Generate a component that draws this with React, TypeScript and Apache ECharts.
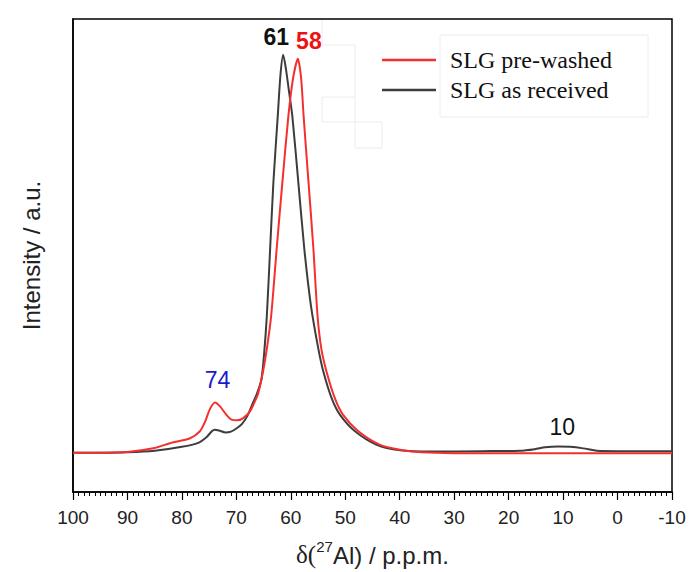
import React, { useEffect, useRef } from "react";
import * as echarts from "echarts";

// ---- Data (chemical shift in ppm, normalised intensity) ----
const receivedPpm = [100, 95, 90, 85, 80, 77, 75.5, 74.5, 74, 73.2, 72, 71, 70, 69, 68, 67, 66.2, 65.4, 64.9, 64.4, 63.8, 63.2, 62.4, 61.9, 61.4, 60.9, 60.3, 59.72, 58.62, 57.52, 56.3, 54.95, 54.03, 52.49, 50.96, 48.21, 44.22, 39.94, 34.4, 25, 18, 15.2, 13.3, 10.9, 8.7, 6.3, 3.8, 0, -10];
const receivedIntensity = [0.001, 0.001, 0.002, 0.006, 0.016, 0.026, 0.04, 0.055, 0.059, 0.057, 0.052, 0.054, 0.062, 0.073, 0.093, 0.125, 0.15, 0.185, 0.25, 0.346, 0.5125, 0.68, 0.846, 0.95, 1.0, 0.965, 0.905, 0.846, 0.68, 0.5125, 0.37, 0.2625, 0.205, 0.1375, 0.096, 0.055, 0.021, 0.0075, 0.004, 0.005, 0.006, 0.01, 0.015, 0.017, 0.016, 0.012, 0.006, 0.005, 0.005];

const washedPpm = [100, 95, 90, 85, 82.2, 78.5, 76.7, 75.8, 74.8, 73.9, 73.0, 71.9, 71.0, 69.9, 68.8, 67.5, 66.6, 66.0, 65.1, 64.4, 63.6, 62.6, 61.55, 60.45, 59.6, 58.7, 58.1, 57.65, 56.75, 55.85, 55.1, 54.4, 53.45, 51.9, 50.4, 47.6, 43.6, 39.5, 36, 30, 20, 10, 0, -10];
const washedIntensity = [0.001, 0.001, 0.003, 0.013, 0.025, 0.0375, 0.055, 0.0775, 0.1125, 0.1275, 0.1175, 0.0975, 0.085, 0.0825, 0.0875, 0.105, 0.13, 0.15, 0.205, 0.2625, 0.346, 0.5125, 0.68, 0.846, 0.94, 0.99, 0.94, 0.846, 0.68, 0.5125, 0.346, 0.2625, 0.205, 0.1375, 0.096, 0.055, 0.021, 0.0075, 0.002, 0.0, 0.0, 0.0, 0.0, 0.0];

const seriesNames = ["SLG pre-washed", "SLG as received"];

// Peak annotations: text, and the peak (ppm, intensity) they annotate
const washedPeakTexts = ["58", "74"];
const washedPeakPpm = [58.7, 73.9];
const washedPeakIntensity = [0.99, 0.1275];
const receivedPeakTexts = ["61", "10"];
const receivedPeakPpm = [61.4, 10.9];
const receivedPeakIntensity = [1.0, 0.017];

const xTickMin = -10;
const xTickMax = 100;
const xTickStep = 10;

const zip = (xs: number[], ys: number[]) => xs.map((x, i) => [x, ys[i]]);

const RED = "#f52f2f";
const DARK = "#3d3d3d";
const SANS = "'Liberation Sans', Arial, sans-serif";
const SERIF = "'Liberation Serif', 'Times New Roman', serif";

export default function App() {
  const ref = useRef<HTMLDivElement>(null);

  useEffect(() => {
    if (!ref.current) return;
    const chart = echarts.init(ref.current, undefined, { renderer: "svg" });

    const washedLabelStyles = [
      { offset: [11, -17.5], color: "#ee1111", fontWeight: "bold" },
      { offset: [2.5, -22.5], color: "#1a1acd", fontWeight: "normal" },
    ];
    const receivedLabelStyles = [
      { offset: [-7, -17.5], color: "#111111", fontWeight: "bold" },
      { offset: [4, -19], color: "#111111", fontWeight: "normal" },
    ];

    const makeMarks = (texts: string[], ppm: number[], inten: number[], styles: any[]) =>
      texts.map((t, i) => ({
        coord: [ppm[i], inten[i]],
        value: t,
        label: {
          show: true,
          position: "inside",
          formatter: t,
          offset: styles[i].offset,
          color: styles[i].color,
          fontWeight: styles[i].fontWeight,
          fontSize: 23,
          fontFamily: SANS,
        },
      }));

    const faint = { stroke: "#ececec", lineWidth: 1 };

    chart.setOption({
      animation: false,
      backgroundColor: "#ffffff",
      grid: {
        left: 73,
        top: 19,
        right: 27,
        bottom: 78,
        show: true,
        borderColor: "#000",
        borderWidth: 1.5,
        backgroundColor: "transparent",
      },
      legend: {
        data: seriesNames,
        orient: "vertical",
        left: 382,
        top: 48,
        padding: 0,
        itemWidth: 54,
        itemHeight: 2.5,
        itemGap: 6,
        icon: "rect",
        textStyle: {
          fontFamily: SERIF,
          fontSize: 24,
          color: "#111",
          padding: [0, 0, 0, 9],
        },
      },
      graphic: [
        { type: "rect", shape: { x: 440, y: 35, width: 208, height: 82 }, style: { fill: "none", ...faint }, silent: true, z: -1 },
        { type: "polyline", shape: { points: [[322, 20], [322, 45], [355, 45], [355, 148], [382, 148], [382, 122], [322, 122], [322, 97], [355, 97]] }, style: { fill: "none", ...faint }, silent: true, z: -1 },
      ],
      xAxis: {
        type: "value",
        inverse: true,
        min: xTickMin,
        max: xTickMax,
        interval: xTickStep,
        name: "{d|δ(}{s|27}{n|Al) / p.p.m.}",
        nameLocation: "middle",
        nameGap: 47,
        nameTextStyle: {
          rich: {
            d: { fontFamily: SERIF, fontSize: 25, color: "#222", lineHeight: 28, verticalAlign: "bottom" },
            s: { fontFamily: SANS, fontSize: 15, color: "#222", lineHeight: 16, verticalAlign: "top" },
            n: { fontFamily: SANS, fontSize: 24, color: "#222", lineHeight: 28, verticalAlign: "bottom" },
          },
        },
        axisLine: { show: true, onZero: false, lineStyle: { color: "#000", width: 1.5 } },
        axisTick: { show: true, inside: false, length: 8, lineStyle: { color: "#000", width: 1.2 } },
        minorTick: { show: true, splitNumber: 10, length: 4, lineStyle: { color: "#000", width: 1 } },
        axisLabel: { fontSize: 19, fontFamily: SANS, color: "#222", margin: 16 },
        splitLine: { show: false },
        minorSplitLine: { show: false },
      },
      yAxis: {
        type: "value",
        min: -0.0975,
        max: 1.09,
        name: "Intensity / a.u.",
        nameLocation: "middle",
        nameGap: 30,
        nameTextStyle: { fontFamily: SANS, fontSize: 24, color: "#222" },
        axisLine: { show: true, onZero: false, lineStyle: { color: "#000", width: 1.5 } },
        axisTick: { show: false },
        axisLabel: { show: false },
        splitLine: { show: false },
      },
      series: [
        {
          name: seriesNames[0],
          type: "line",
          data: zip(washedPpm, washedIntensity),
          showSymbol: false,
          symbol: "none",
          smooth: 0.25,
          lineStyle: { color: RED, width: 2 },
          itemStyle: { color: RED },
          z: 3,
          markPoint: {
            symbol: "circle",
            symbolSize: 0,
            silent: true,
            data: makeMarks(washedPeakTexts, washedPeakPpm, washedPeakIntensity, washedLabelStyles),
          },
        },
        {
          name: seriesNames[1],
          type: "line",
          data: zip(receivedPpm, receivedIntensity),
          showSymbol: false,
          symbol: "none",
          smooth: 0.25,
          lineStyle: { color: DARK, width: 2 },
          itemStyle: { color: DARK },
          z: 2,
          markPoint: {
            symbol: "circle",
            symbolSize: 0,
            silent: true,
            data: makeMarks(receivedPeakTexts, receivedPeakPpm, receivedPeakIntensity, receivedLabelStyles),
          },
        },
      ],
    });

    return () => chart.dispose();
  }, []);

  return (
    <div
      ref={ref}
      style={{ position: "absolute", left: 0, top: 0, width: 699, height: 572, background: "#fff" }}
    />
  );
}
